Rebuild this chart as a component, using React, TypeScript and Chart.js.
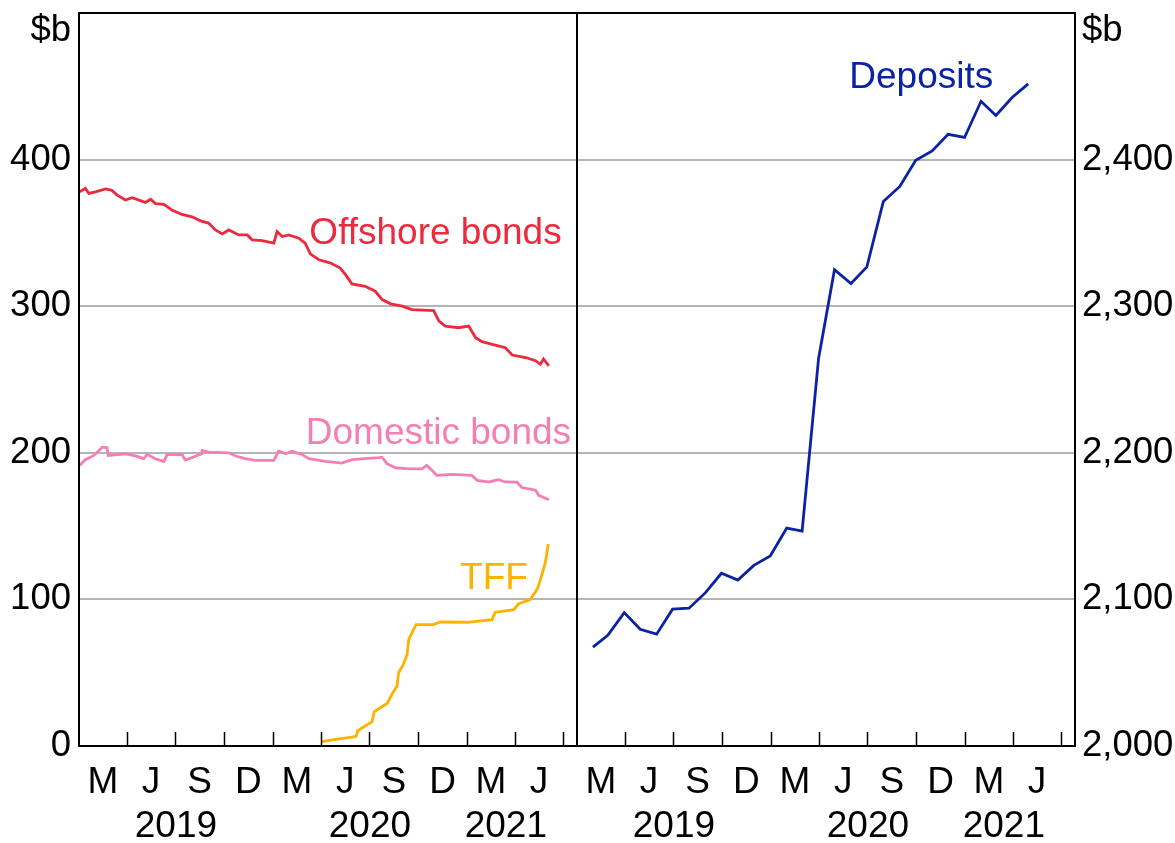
import React, { useEffect, useRef } from 'react';
import { Chart, registerables } from 'chart.js';

Chart.register(...registerables);

const FONT = "'Liberation Sans', Arial, Helvetica, sans-serif";

// x axis: days since 1 Jan 2019
const AXIS_MIN_DAY = 0;
const AXIS_MAX_DAY = 938;
const quarterTickDays = [90, 181, 273, 365, 456, 547, 639, 731, 821, 912];
const quarterLabelDays = [45, 135.5, 227, 319, 410.5, 501.5, 593, 685, 776, 866.5];
const quarterLabels = ['M', 'J', 'S', 'D', 'M', 'J', 'S', 'D', 'M', 'J'];
const yearLabelDays = [182.5, 548, 804];
const yearLabels = ['2019', '2020', '2021'];

// left panel ($b)
const leftTickValues = [0, 100, 200, 300, 400, 500];
// right panel ($b)
const rightTickValues = [2000, 2100, 2200, 2300, 2400, 2500];

// Offshore bonds
const offshoreDays = [1, 12, 18.5, 31, 50, 62, 72, 87.5, 100, 125, 135, 144, 160, 175, 194, 213, 229, 244, 257, 270, 282, 301, 317, 326, 345, 367, 373, 383, 395, 414, 426, 436, 452, 474, 492, 502, 514, 539, 558, 571, 587, 609, 627, 668, 678, 690, 715, 734, 747, 759, 784, 803, 816, 841, 860, 869, 875, 885];
const offshoreValues = [378, 380.3, 376.9, 378, 380, 379, 375.8, 372.4, 374, 370.8, 373, 370, 369.5, 365.6, 362.6, 361, 358.2, 356.7, 352, 349.3, 352, 348.6, 348.6, 345.3, 344.8, 343, 350.9, 347.5, 348.6, 346.4, 343, 335.5, 331.7, 329.4, 326, 321.5, 315.2, 313.6, 310.2, 304.5, 301.6, 300, 297.7, 297, 289.8, 286.4, 285.3, 286.4, 278.5, 275.8, 273.5, 271.7, 266.7, 265, 262.8, 260.4, 264, 259.3];

// Domestic bonds
const domesticDays = [1, 12, 28, 44, 53, 55, 88, 110, 122, 128, 144, 160, 166, 194, 200, 213, 231, 232, 244, 282, 295, 313, 332, 367, 376, 389, 401, 420, 433, 464, 495, 514, 539, 565, 571, 580, 596, 621, 646, 655, 665, 674, 702, 740, 750, 772, 790, 803, 825, 834, 860, 866, 885];
const domesticValues = [191.4, 195.3, 198.2, 203.8, 203.4, 198.2, 199.3, 197.5, 195.9, 199, 195.9, 194.1, 198.8, 199, 195, 196.7, 199.3, 201.6, 200.5, 200, 197.8, 196, 194.9, 194.9, 201.2, 199.3, 201, 198.9, 196, 194.1, 193, 195.3, 196, 196.7, 197, 192.6, 189.8, 189.1, 189.1, 191.4, 188, 184.6, 185.3, 184.6, 181.2, 180.1, 181.7, 180.1, 180, 176.3, 174.5, 171, 168];

// Term Funding Facility
const tffDays = [456, 480, 511, 522, 525, 542, 552, 556, 568, 581, 591, 599, 602, 611, 618, 621, 627, 635, 668, 680, 731, 778, 784, 819, 828, 850, 856, 864, 870, 878, 884];
const tffValues = [2.9, 4.3, 5.9, 6.6, 10.4, 14.3, 16.5, 23.3, 26.3, 29.2, 36.4, 40.9, 50, 55.7, 62.4, 72.6, 77.2, 82.8, 82.8, 84.6, 84.4, 86.2, 91.2, 93, 97, 99.8, 103.2, 107.7, 114.5, 124.7, 137.8];

// Deposits (month-end)
const depositMonths = ['2019-01', '2019-02', '2019-03', '2019-04', '2019-05', '2019-06', '2019-07', '2019-08', '2019-09', '2019-10', '2019-11', '2019-12', '2020-01', '2020-02', '2020-03', '2020-04', '2020-05', '2020-06', '2020-07', '2020-08', '2020-09', '2020-10', '2020-11', '2020-12', '2021-01', '2021-02', '2021-03', '2021-04'];
const depositValues = [2067.5, 2075.5, 2091, 2079.6, 2076.3, 2093.3, 2094, 2104.6, 2117.8, 2113.2, 2123.2, 2129.6, 2148.7, 2146.6, 2264.4, 2324.9, 2315.5, 2326.8, 2371.5, 2381.7, 2399.5, 2405.9, 2417.2, 2415.1, 2439.8, 2430.1, 2442.5, 2451.7];

const RED = '#ec2a3d';
const PINK = '#f47fb3';
const AMBER = '#fdb200';
const BLUE = '#0a23a5';
const GRID = '#b5b5b5';

const DAY_MS = 86400000;
const BASE = Date.UTC(2019, 0, 1);
const monthEndDay = (ym: string) => {
  const [y, m] = ym.split('-').map(Number);
  return (Date.UTC(y, m, 0) - BASE) / DAY_MS;
};

const toPoints = (xs: number[], ys: number[]) => xs.map((x, i) => ({ x, y: ys[i] }));

const panelPlugin = {
  id: 'panel',
  afterDraw(chart: any, _args: any, opts: any) {
    const { ctx, chartArea: a, scales } = chart;
    ctx.save();
    ctx.strokeStyle = '#000';
    ctx.lineWidth = 1.5;
    for (const d of quarterTickDays) {
      const x = Math.round(scales.x.getPixelForValue(d)) + 0.5;
      ctx.beginPath();
      ctx.moveTo(x, a.bottom);
      ctx.lineTo(x, a.bottom - 14);
      ctx.stroke();
    }
    ctx.lineWidth = 2;
    ctx.strokeRect(a.left, a.top, a.right - a.left, a.bottom - a.top);

    ctx.font = `37px ${FONT}`;
    ctx.textBaseline = 'alphabetic';
    for (const l of opts.labels || []) {
      ctx.fillStyle = l.color;
      ctx.textAlign = 'center';
      ctx.fillText(l.text, scales.x.getPixelForValue(l.day), scales.y.getPixelForValue(l.value));
    }
    ctx.fillStyle = '#000';
    ctx.font = `36.5px ${FONT}`;
    if (opts.unitSide === 'left') {
      ctx.textAlign = 'right';
      ctx.fillText('$b', a.left - 8, a.top + 28);
    } else {
      ctx.textAlign = 'left';
      ctx.fillText('$b', a.right + 7, a.top + 28);
    }
    ctx.restore();
  },
};

function xScales() {
  return {
    x: {
      type: 'linear',
      min: AXIS_MIN_DAY,
      max: AXIS_MAX_DAY,
      position: 'bottom',
      weight: 0,
      grid: { display: false, drawTicks: false },
      border: { display: false },
      afterBuildTicks: (s: any) => {
        s.ticks = quarterLabelDays.map((v) => ({ value: v }));
      },
      ticks: {
        autoSkip: false,
        maxRotation: 0,
        minRotation: 0,
        padding: 15,
        color: '#000',
        font: { size: 37, family: FONT },
        callback: (_v: any, i: number) => quarterLabels[i],
      },
      afterFit: (s: any) => {
        s.height = 57;
        s.paddingLeft = 0;
        s.paddingRight = 0;
      },
    },
    x2: {
      type: 'linear',
      min: AXIS_MIN_DAY,
      max: AXIS_MAX_DAY,
      position: 'bottom',
      weight: 1,
      grid: { display: false, drawTicks: false },
      border: { display: false },
      afterBuildTicks: (s: any) => {
        s.ticks = yearLabelDays.map((v) => ({ value: v }));
      },
      ticks: {
        autoSkip: false,
        maxRotation: 0,
        minRotation: 0,
        padding: 2,
        color: '#000',
        font: { size: 37, family: FONT },
        callback: (_v: any, i: number) => yearLabels[i],
      },
      afterFit: (s: any) => {
        s.height = 40;
        s.paddingLeft = 0;
        s.paddingRight = 0;
      },
    },
  };
}

function yScale(values: number[], position: 'left' | 'right', width: number, pad: number) {
  const lo = values[0];
  const hi = values[values.length - 1];
  return {
    type: 'linear',
    min: lo,
    max: hi,
    position,
    afterBuildTicks: (s: any) => {
      s.ticks = values.map((v) => ({ value: v }));
    },
    grid: {
      color: (c: any) => (c.tick && c.tick.value > lo && c.tick.value < hi ? GRID : 'rgba(0,0,0,0)'),
      lineWidth: 2,
      drawTicks: false,
    },
    border: { display: false },
    ticks: {
      padding: pad,
      color: '#000',
      font: { size: 36.5, family: FONT },
      callback: (v: number) => (v === hi ? '' : v.toLocaleString('en-US')),
    },
    afterFit: (s: any) => {
      s.width = width;
      s.paddingTop = 0;
      s.paddingBottom = 0;
    },
  };
}

const lineStyle = { pointRadius: 0, borderWidth: 2.8, tension: 0, fill: false };

export default function App() {
  const leftRef = useRef<HTMLCanvasElement>(null);
  const rightRef = useRef<HTMLCanvasElement>(null);

  useEffect(() => {
    Chart.defaults.font.family = FONT;
    Chart.defaults.color = '#000';

    const left = new Chart(leftRef.current as HTMLCanvasElement, {
      type: 'line',
      data: {
        datasets: [
          { label: 'Offshore bonds', data: toPoints(offshoreDays, offshoreValues), borderColor: RED, ...lineStyle },
          { label: 'Domestic bonds', data: toPoints(domesticDays, domesticValues), borderColor: PINK, ...lineStyle },
          { label: 'TFF', data: toPoints(tffDays, tffValues), borderColor: AMBER, ...lineStyle },
        ],
      },
      options: {
        animation: false,
        responsive: false,
        maintainAspectRatio: false,
        layout: { padding: { top: 13, right: 1, bottom: 0, left: 0 } },
        plugins: {
          legend: { display: false },
          tooltip: { enabled: false },
          panel: {
            unitSide: 'left',
            labels: [
              { text: 'Offshore bonds', day: 671.5, value: 342.5, color: RED },
              { text: 'Domestic bonds', day: 677, value: 206, color: PINK },
              { text: 'TFF', day: 781.7, value: 107.2, color: AMBER },
            ],
          },
        },
        scales: { ...xScales(), y: yScale(leftTickValues, 'left', 79, 8) },
      } as any,
      plugins: [panelPlugin],
    } as any);

    const right = new Chart(rightRef.current as HTMLCanvasElement, {
      type: 'line',
      data: {
        datasets: [
          {
            label: 'Deposits',
            data: depositMonths.map((m, i) => ({ x: monthEndDay(m), y: depositValues[i] })),
            borderColor: BLUE,
            ...lineStyle,
          },
        ],
      },
      options: {
        animation: false,
        responsive: false,
        maintainAspectRatio: false,
        layout: { padding: { top: 13, right: 0, bottom: 0, left: 1 } },
        plugins: {
          legend: { display: false },
          tooltip: { enabled: false },
          panel: {
            unitSide: 'right',
            labels: [{ text: 'Deposits', day: 648.5, value: 2448.5, color: BLUE }],
          },
        },
        scales: { ...xScales(), y: yScale(rightTickValues, 'right', 100, 7) },
      } as any,
      plugins: [panelPlugin],
    } as any);

    return () => {
      left.destroy();
      right.destroy();
    };
  }, []);

  return (
    <div style={{ position: 'fixed', left: 0, top: 0, width: 1175, height: 843, background: '#fff', overflow: 'hidden' }}>
      <canvas ref={leftRef} width={578} height={843} style={{ position: 'absolute', left: 0, top: 0, display: 'block' }} />
      <canvas ref={rightRef} width={599} height={843} style={{ position: 'absolute', left: 576, top: 0, display: 'block' }} />
    </div>
  );
}
